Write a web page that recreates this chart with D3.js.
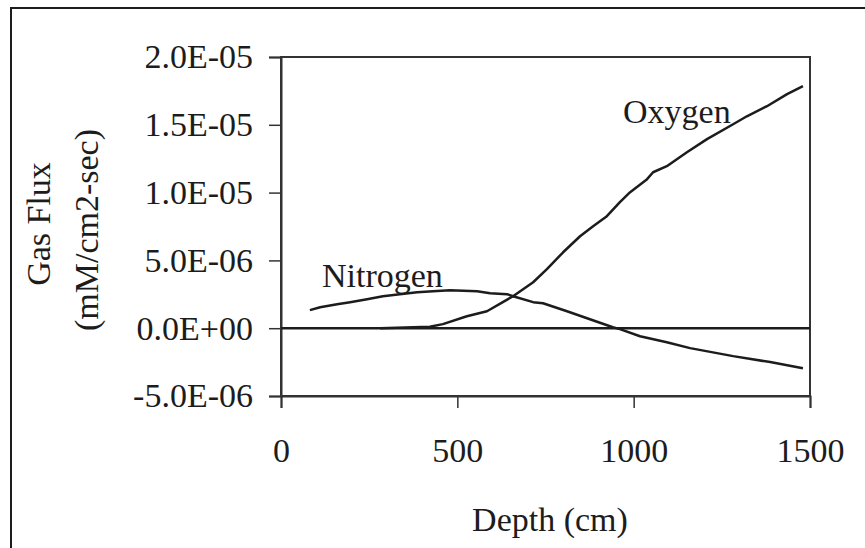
<!DOCTYPE html>
<html>
<head>
<meta charset="utf-8">
<title>Gas flux vs depth</title>
<script src="https://cdn.jsdelivr.net/npm/d3@7"></script>
<style>
  body { margin: 0; background: #fff; }
  svg text { font-family: "Liberation Serif", "Times New Roman", serif; fill: #1c1c1c; }
</style>
</head>
<body>
<svg id="chart" width="865" height="548"></svg>
<script>
// depth in cm, flux in mM/cm2-sec
var oxygenDepth = [281, 422, 459, 527, 584, 629, 658, 715, 754, 800, 848, 885, 924, 961, 990, 1038, 1055, 1094, 1151, 1208, 1282, 1321, 1378, 1435, 1480]
var oxygenFlux = [0, 0.1e-6, 0.3e-6, 0.88e-6, 1.25e-6, 1.92e-6, 2.36e-6, 3.39e-6, 4.35e-6, 5.6e-6, 6.78e-6, 7.52e-6, 8.26e-6, 9.29e-6, 10.03e-6, 10.99e-6, 11.5e-6, 11.95e-6, 12.98e-6, 13.94e-6, 15.04e-6, 15.63e-6, 16.37e-6, 17.26e-6, 17.85e-6]

var nitrogenDepth = [82, 111, 159, 196, 244, 289, 337, 386, 431, 479, 556, 593, 641, 658, 715, 743, 811, 876, 941, 961, 1018, 1094, 1160, 1282, 1387, 1480]
var nitrogenFlux = [1.33e-6, 1.55e-6, 1.77e-6, 1.92e-6, 2.14e-6, 2.36e-6, 2.51e-6, 2.65e-6, 2.73e-6, 2.8e-6, 2.73e-6, 2.58e-6, 2.51e-6, 2.36e-6, 1.92e-6, 1.84e-6, 1.25e-6, 0.66e-6, 0.07e-6, -0.07e-6, -0.59e-6, -1.03e-6, -1.47e-6, -2.06e-6, -2.5e-6, -2.95e-6]

var xTicks = [0, 500, 1000, 1500]
var yTicks = [-5e-6, 0, 5e-6, 10e-6, 15e-6, 20e-6]

var ink = '#1c1c1c'
var svg = d3.select('#chart')

var x = d3.scaleLinear().domain([0, 1500]).range([281, 810])
var y = d3.scaleLinear().domain([-5e-6, 2e-5]).range([396, 57])

// excel style 2.0E-05
function sci(v) {
  if (v === 0) return '0.0E+00'
  var e = Math.floor(Math.log10(Math.abs(v)) + 1e-9)
  var m = v / Math.pow(10, e)
  var es = (e < 0 ? '-' : '+') + String(Math.abs(e)).padStart(2, '0')
  return m.toFixed(1) + 'E' + es
}

// outer frame (left + top only, rest is cut off)
svg.append('path')
  .attr('d', 'M11,548V8H865')
  .attr('fill', 'none').attr('stroke', ink).attr('stroke-width', 2)

// plot area box
svg.append('rect')
  .attr('x', x(0)).attr('y', y(2e-5))
  .attr('width', x(1500) - x(0)).attr('height', y(-5e-6) - y(2e-5))
  .attr('fill', 'none').attr('stroke', '#333').attr('stroke-width', 2)

// axes
var yAxis = svg.append('g')
  .attr('transform', 'translate(' + x(0) + ',0)')
  .call(d3.axisLeft(y).tickValues(yTicks).tickFormat(sci).tickSize(12).tickPadding(16))
var xAxis = svg.append('g')
  .attr('transform', 'translate(0,' + y(-5e-6) + ')')
  .call(d3.axisBottom(x).tickValues(xTicks).tickFormat(d3.format('d')).tickSize(12).tickPadding(37))

;[yAxis, xAxis].forEach(function(a) {
  a.select('.domain').attr('stroke', '#333').attr('stroke-width', 2)
  a.selectAll('.tick line').attr('stroke', '#333').attr('stroke-width', 1.5)
  a.selectAll('.tick text').attr('font-size', 34).attr('fill', ink)
    .attr('font-family', '"Liberation Serif", serif')
})
xAxis.selectAll('.tick text').attr('dy', '0.5em')

// zero line
svg.append('line')
  .attr('x1', x(0)).attr('x2', x(1500))
  .attr('y1', y(0)).attr('y2', y(0))
  .attr('stroke', ink).attr('stroke-width', 2.5)

var line = d3.line()
  .x(function(d) { return x(d[0]) })
  .y(function(d) { return y(d[1]) })

var series = [
  { name: 'Oxygen', pts: d3.zip(oxygenDepth, oxygenFlux) },
  { name: 'Nitrogen', pts: d3.zip(nitrogenDepth, nitrogenFlux) }
]
svg.selectAll('path.curve').data(series).enter().append('path')
  .attr('class', 'curve')
  .attr('d', function(d) { return line(d.pts) })
  .attr('fill', 'none').attr('stroke', ink).attr('stroke-width', 2.5)
  .attr('stroke-linejoin', 'round')

// series labels
svg.append('text').text('Oxygen')
  .attr('x', 623).attr('y', 123).attr('font-size', 34)
svg.append('text').text('Nitrogen')
  .attr('x', 322).attr('y', 287).attr('font-size', 34)

// axis titles
svg.append('text').text('Depth (cm)')
  .attr('x', 550).attr('y', 531).attr('text-anchor', 'middle').attr('font-size', 34)
svg.append('text').text('Gas Flux')
  .attr('transform', 'translate(50,224) rotate(-90)')
  .attr('text-anchor', 'middle').attr('font-size', 34)
svg.append('text').text('(mM/cm2-sec)')
  .attr('transform', 'translate(98,230) rotate(-90)')
  .attr('text-anchor', 'middle').attr('font-size', 34)
</script>
</body>
</html>
